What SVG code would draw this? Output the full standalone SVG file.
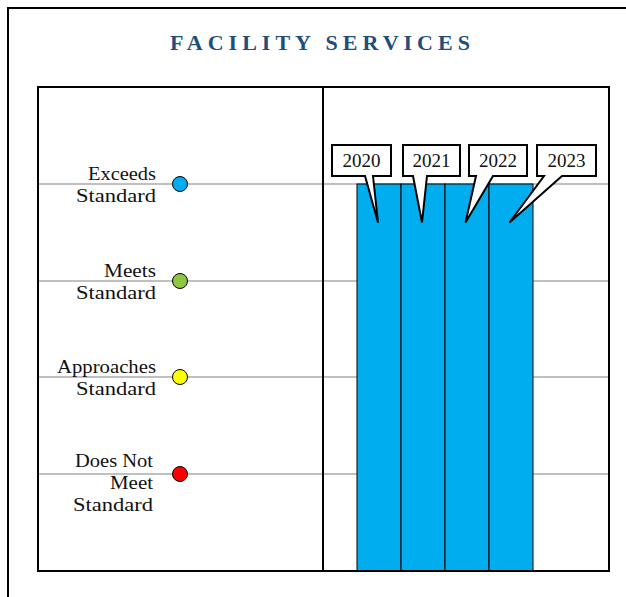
<svg xmlns="http://www.w3.org/2000/svg" width="626" height="597" viewBox="0 0 626 597">
<defs>
<style>
.frame{fill:none;stroke:#000;stroke-width:2}
.grid{stroke:#c0c0c0;stroke-width:2;fill:none}
.lbl{font-family:"Liberation Serif","Times New Roman",serif;font-size:19px;fill:#111;text-anchor:end}
.dot{stroke:#000;stroke-width:1}
.bar{fill:#00AEEF;stroke:#000;stroke-width:1}
.call{fill:#fff;stroke:#000;stroke-width:2;stroke-linejoin:miter}
.yr{font-family:"Liberation Serif","Times New Roman",serif;font-size:19px;fill:#111;text-anchor:middle}
.title{font-family:"Liberation Serif","Times New Roman",serif;font-size:22px;font-weight:bold;fill:#1F4E79;letter-spacing:5px}
</style>
</defs>
<rect width="626" height="597" fill="#fff"/>
<rect class="frame" x="8" y="8" width="640" height="640"/>
<text class="title" x="170" y="50">FACILITY SERVICES</text>
<g id="gridlines">
<line class="grid" x1="38" y1="184" x2="609" y2="184"/>
<line class="grid" x1="38" y1="281" x2="609" y2="281"/>
<line class="grid" x1="38" y1="377" x2="609" y2="377"/>
<line class="grid" x1="38" y1="474" x2="609" y2="474"/>
</g>
<g id="bars">
<rect class="bar" x="357" y="184" width="44" height="387"/>
<rect class="bar" x="401" y="184" width="44" height="387"/>
<rect class="bar" x="445" y="184" width="44" height="387"/>
<rect class="bar" x="489" y="184" width="44" height="387"/>
</g>
<rect class="frame" x="38" y="87" width="571" height="484"/>
<line x1="323" y1="87" x2="323" y2="571" stroke="#000" stroke-width="2"/>
<g id="level-exceeds">
<text class="lbl" x="156" y="180" textLength="68" lengthAdjust="spacingAndGlyphs">Exceeds</text>
<text class="lbl" x="156" y="202" textLength="80" lengthAdjust="spacingAndGlyphs">Standard</text>
<circle class="dot" cx="180" cy="184" r="7.5" fill="#00AEEF"/>
</g>
<g id="level-meets">
<text class="lbl" x="156" y="277" textLength="52" lengthAdjust="spacingAndGlyphs">Meets</text>
<text class="lbl" x="156" y="299" textLength="80" lengthAdjust="spacingAndGlyphs">Standard</text>
<circle class="dot" cx="180" cy="281" r="7.5" fill="#8DC63F"/>
</g>
<g id="level-approaches">
<text class="lbl" x="156" y="373" textLength="99" lengthAdjust="spacingAndGlyphs">Approaches</text>
<text class="lbl" x="156" y="395" textLength="80" lengthAdjust="spacingAndGlyphs">Standard</text>
<circle class="dot" cx="180" cy="377" r="7.5" fill="#FFFF00"/>
</g>
<g id="level-doesnotmeet">
<text class="lbl" x="153" y="467" textLength="78" lengthAdjust="spacingAndGlyphs">Does Not</text>
<text class="lbl" x="153" y="489" textLength="43" lengthAdjust="spacingAndGlyphs">Meet</text>
<text class="lbl" x="153" y="511" textLength="80" lengthAdjust="spacingAndGlyphs">Standard</text>
<circle class="dot" cx="180" cy="474" r="7.5" fill="#FF0000"/>
</g>
<g id="callout-2020">
<path class="call" d="M332,145 H391 V176 H373 L378,222.5 L365,176 H332 Z"/>
<text class="yr" x="361.5" y="167">2020</text>
</g>
<g id="callout-2021">
<path class="call" d="M403,145 H460 V176 H427 L422,222.5 L413,176 H403 Z"/>
<text class="yr" x="431.5" y="167">2021</text>
</g>
<g id="callout-2022">
<path class="call" d="M469,145 H527 V176 H493 L465.5,222.5 L476,176 H469 Z"/>
<text class="yr" x="498" y="167">2022</text>
</g>
<g id="callout-2023">
<path class="call" d="M537,145 H596 V176 H562 L509.5,222.5 L544,176 H537 Z"/>
<text class="yr" x="566.5" y="167">2023</text>
</g>
</svg>
